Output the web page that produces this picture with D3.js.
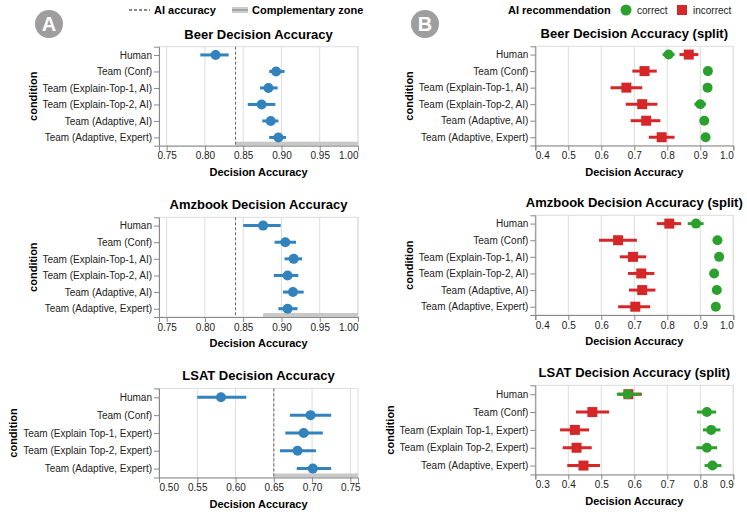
<!DOCTYPE html>
<html>
<head>
<meta charset="utf-8">
<script src="https://cdn.jsdelivr.net/npm/d3@7"></script>
<style>
  body { margin: 0; background: #fff; }
  svg { display: block; font-family: "Liberation Sans", Arial, Helvetica, sans-serif; }
</style>
</head>
<body>
<svg id="chart" width="747" height="515"></svg>
<script>
// ---------- DATA ----------
const beerConditions = ["Human", "Team (Conf)", "Team (Explain-Top-1, AI)", "Team (Explain-Top-2, AI)", "Team (Adaptive, AI)", "Team (Adaptive, Expert)"];
const amzConditions = ["Human", "Team (Conf)", "Team (Explain-Top-1, AI)", "Team (Explain-Top-2, AI)", "Team (Adaptive, AI)", "Team (Adaptive, Expert)"];
const lsatConditions = ["Human", "Team (Conf)", "Team (Explain Top-1, Expert)", "Team (Explain Top-2, Expert)", "Team (Adaptive, Expert)"];

// Panel A: overall decision accuracy (mean, CI low, CI high)
const beerMean = [0.814, 0.893, 0.883, 0.874, 0.886, 0.896];
const beerLo   = [0.794, 0.884, 0.872, 0.856, 0.875, 0.884];
const beerHi   = [0.831, 0.904, 0.895, 0.892, 0.896, 0.906];
const amzMean  = [0.876, 0.905, 0.916, 0.908, 0.915, 0.908];
const amzLo    = [0.850, 0.891, 0.904, 0.890, 0.902, 0.896];
const amzHi    = [0.899, 0.919, 0.927, 0.922, 0.929, 0.921];
const lsatMean = [0.581, 0.698, 0.689, 0.681, 0.701];
const lsatLo   = [0.550, 0.671, 0.665, 0.658, 0.680];
const lsatHi   = [0.614, 0.725, 0.714, 0.705, 0.725];

const aiAccuracy = { beer: 0.84, amz: 0.84, lsat: 0.65 };

// Panel B: split by AI recommendation correctness
const beerCorrect     = [0.804, 0.923, 0.922, 0.900, 0.912, 0.916];
const beerCorrectLo   = [0.786, 0.915, 0.914, 0.882, 0.904, 0.908];
const beerCorrectHi   = [0.822, 0.931, 0.930, 0.917, 0.920, 0.924];
const beerIncorrect   = [0.865, 0.731, 0.676, 0.724, 0.736, 0.783];
const beerIncorrectLo = [0.837, 0.694, 0.628, 0.674, 0.689, 0.744];
const beerIncorrectHi = [0.894, 0.768, 0.724, 0.770, 0.779, 0.822];

const amzCorrect      = [0.887, 0.952, 0.957, 0.942, 0.950, 0.947];
const amzCorrectLo    = [0.862, 0.945, 0.950, 0.930, 0.943, 0.940];
const amzCorrectHi    = [0.910, 0.959, 0.964, 0.954, 0.957, 0.954];
const amzIncorrect    = [0.806, 0.651, 0.696, 0.721, 0.724, 0.703];
const amzIncorrectLo  = [0.768, 0.593, 0.656, 0.681, 0.684, 0.651];
const amzIncorrectHi  = [0.842, 0.708, 0.736, 0.761, 0.764, 0.748];

const lsatCorrect     = [0.580, 0.820, 0.833, 0.820, 0.837];
const lsatCorrectLo   = [0.547, 0.790, 0.808, 0.788, 0.813];
const lsatCorrectHi   = [0.620, 0.848, 0.861, 0.851, 0.864];
const lsatIncorrect   = [0.582, 0.473, 0.420, 0.425, 0.446];
const lsatIncorrectLo = [0.552, 0.423, 0.375, 0.383, 0.397];
const lsatIncorrectHi = [0.623, 0.524, 0.463, 0.471, 0.496];

const ticksA = [0.75, 0.80, 0.85, 0.90, 0.95, 1.00];
const ticksLsatA = [0.50, 0.55, 0.60, 0.65, 0.70, 0.75];
const ticksB = [0.4, 0.5, 0.6, 0.7, 0.8, 0.9, 1.0];
const ticksLsatB = [0.3, 0.4, 0.5, 0.6, 0.7, 0.8, 0.9];

// ---------- STYLE ----------
const BLUE = "#3182bd", GREEN = "#2ca02c", RED = "#d62728";
const AXIS = "#888", GRID = "#ddd";

const svg = d3.select("#chart");

function panel(cfg) {
  const g = svg.append("g");
  const x = d3.scaleLinear().domain(cfg.domain).range([cfg.left, cfg.left + cfg.width]);
  const y = d3.scalePoint().domain(cfg.categories).range([cfg.top, cfg.bottom]).padding(0.5);

  // grid
  g.selectAll(".grid").data(cfg.ticks).join("line")
    .attr("x1", d => x(d)).attr("x2", d => x(d))
    .attr("y1", cfg.top).attr("y2", cfg.bottom)
    .attr("stroke", GRID).attr("stroke-width", 1);
  // view border (top, right)
  g.append("rect").attr("x", cfg.left).attr("y", cfg.top)
    .attr("width", cfg.width).attr("height", cfg.bottom - cfg.top)
    .attr("fill", "none").attr("stroke", GRID);

  // complementary zone + AI line
  if (cfg.ai !== undefined) {
    const zoneStart = Math.max(cfg.ai, cfg.humanMean);
    g.append("rect")
      .attr("x", x(zoneStart)).attr("y", cfg.bottom - 4)
      .attr("width", x(cfg.domain[1]) - x(zoneStart)).attr("height", 4)
      .attr("fill", "#c8c8c8");
    g.append("line")
      .attr("x1", x(cfg.ai)).attr("x2", x(cfg.ai))
      .attr("y1", cfg.top).attr("y2", cfg.bottom)
      .attr("stroke", "#666").attr("stroke-width", 1).attr("stroke-dasharray", "3,2");
  }

  // x axis
  const xa = d3.axisBottom(x).tickValues(cfg.ticks).tickSize(5).tickFormat(cfg.fmt);
  const xg = g.append("g").attr("transform", `translate(0,${cfg.bottom})`).call(xa);
  xg.select(".domain").attr("stroke", AXIS);
  xg.selectAll(".tick line").attr("stroke", AXIS);
  xg.selectAll(".tick text")
    .attr("font-size", 10).attr("fill", "#222").attr("dy", "0.55em").attr("y", 8)
    .attr("text-anchor", d => Math.abs(d - cfg.domain[0]) < 1e-9 ? "start" : (Math.abs(d - cfg.domain[1]) < 1e-9 ? "end" : "middle"));
  xg.attr("font-family", null);

  // y axis
  const ya = d3.axisLeft(y).tickSize(5).tickPadding(2);
  const yg = g.append("g").attr("transform", `translate(${cfg.left},0)`).call(ya);
  yg.attr("font-family", null);
  yg.select(".domain").attr("stroke", AXIS);
  yg.selectAll(".tick line").attr("stroke", AXIS);
  yg.selectAll(".tick text").attr("font-size", 10).attr("fill", "#222");

  // labels
  let minLeft = cfg.left;
  yg.selectAll(".tick text").each(function () {
    const b = this.getBBox();
    minLeft = Math.min(minLeft, cfg.left + b.x);
  });
  g.append("text")
    .attr("transform", `translate(${minLeft - 6},${(cfg.top + cfg.bottom) / 2}) rotate(-90)`)
    .attr("text-anchor", "middle").attr("font-size", 11).attr("font-weight", "bold").attr("fill", "#000")
    .text("condition");
  g.append("text")
    .attr("x", cfg.left + cfg.width / 2).attr("y", cfg.top - 12.5).attr("dy", "0.35em")
    .attr("text-anchor", "middle").attr("font-size", 13).attr("font-weight", "bold").attr("fill", "#000")
    .text(cfg.title);
  g.append("text")
    .attr("x", cfg.left + cfg.width / 2).attr("y", cfg.bottom + 26.5).attr("dy", "0.35em")
    .attr("text-anchor", "middle").attr("font-size", 11).attr("font-weight", "bold").attr("fill", "#000")
    .text("Decision Accuracy");

  // series
  cfg.series.forEach(s => {
    const rows = cfg.categories.map((c, i) => ({ c, m: s.mean[i], lo: s.lo[i], hi: s.hi[i] }));
    g.append("g").selectAll("line").data(rows).join("line")
      .attr("x1", d => x(d.lo)).attr("x2", d => x(d.hi))
      .attr("y1", d => y(d.c)).attr("y2", d => y(d.c))
      .attr("stroke", s.color).attr("stroke-width", 3);
    if (s.shape === "square") {
      g.append("g").selectAll("rect").data(rows).join("rect")
        .attr("x", d => x(d.m) - 5).attr("y", d => y(d.c) - 5)
        .attr("width", 10).attr("height", 10).attr("fill", s.color);
    } else {
      g.append("g").selectAll("circle").data(rows).join("circle")
        .attr("cx", d => x(d.m)).attr("cy", d => y(d.c)).attr("r", 5).attr("fill", s.color);
    }
  });
}

const fmt2 = d3.format(".2f"), fmt1 = d3.format(".1f");
const LA = 159, WA = 199, LB = 535.3, WB = 198;

panel({ title: "Beer Decision Accuracy", categories: beerConditions, domain: [0.74, 1.0], ticks: ticksA, fmt: fmt2,
  left: LA, width: WA, top: 46.7, bottom: 145.7, ai: aiAccuracy.beer, humanMean: beerMean[0],
  series: [{ mean: beerMean, lo: beerLo, hi: beerHi, color: BLUE, shape: "circle" }] });
panel({ title: "Amzbook Decision Accuracy", categories: amzConditions, domain: [0.74, 1.0], ticks: ticksA, fmt: fmt2,
  left: LA, width: WA, top: 217.3, bottom: 317, ai: aiAccuracy.amz, humanMean: amzMean[0],
  series: [{ mean: amzMean, lo: amzLo, hi: amzHi, color: BLUE, shape: "circle" }] });
panel({ title: "LSAT Decision Accuracy", categories: lsatConditions, domain: [0.50, 0.76], ticks: ticksLsatA, fmt: fmt2,
  left: LA, width: WA, top: 388.4, bottom: 477.5, ai: aiAccuracy.lsat, humanMean: lsatMean[0],
  series: [{ mean: lsatMean, lo: lsatLo, hi: lsatHi, color: BLUE, shape: "circle" }] });

panel({ title: "Beer Decision Accuracy (split)", categories: beerConditions, domain: [0.4, 1.0], ticks: ticksB, fmt: fmt1,
  left: LB, width: WB, top: 46.3, bottom: 145.5,
  series: [{ mean: beerIncorrect, lo: beerIncorrectLo, hi: beerIncorrectHi, color: RED, shape: "square" },
           { mean: beerCorrect, lo: beerCorrectLo, hi: beerCorrectHi, color: GREEN, shape: "circle" }] });
panel({ title: "Amzbook Decision Accuracy (split)", categories: amzConditions, domain: [0.4, 1.0], ticks: ticksB, fmt: fmt1,
  left: LB, width: WB, top: 215.3, bottom: 315,
  series: [{ mean: amzIncorrect, lo: amzIncorrectLo, hi: amzIncorrectHi, color: RED, shape: "square" },
           { mean: amzCorrect, lo: amzCorrectLo, hi: amzCorrectHi, color: GREEN, shape: "circle" }] });
panel({ title: "LSAT Decision Accuracy (split)", categories: lsatConditions, domain: [0.3, 0.9], ticks: ticksLsatB, fmt: fmt1,
  left: LB, width: WB, top: 385.3, bottom: 474.5,
  series: [{ mean: lsatIncorrect, lo: lsatIncorrectLo, hi: lsatIncorrectHi, color: RED, shape: "square" },
           { mean: lsatCorrect, lo: lsatCorrectLo, hi: lsatCorrectHi, color: GREEN, shape: "circle" }] });

// ---------- BADGES ----------
[["A", 49, 24], ["B", 425, 24]].forEach(([t, cx, cy]) => {
  svg.append("circle").attr("cx", cx).attr("cy", cy).attr("r", 14).attr("fill", "#9e9e9e");
  svg.append("text").attr("x", cx).attr("y", cy).attr("dy", "0.36em").attr("text-anchor", "middle")
    .attr("font-size", 20).attr("font-weight", "bold").attr("fill", "#fff").text(t);
});

// ---------- LEGEND A ----------
const lgA = svg.append("g");
lgA.append("line").attr("x1", 129).attr("x2", 150).attr("y1", 10).attr("y2", 10)
  .attr("stroke", "#888").attr("stroke-width", 2).attr("stroke-dasharray", "3,2");
lgA.append("text").attr("x", 154).attr("y", 10).attr("dy", "0.35em").attr("font-size", 11).attr("font-weight", "bold").text("AI accuracy");
lgA.append("rect").attr("x", 232).attr("y", 7).attr("width", 16).attr("height", 6).attr("fill", "#ccc");
lgA.append("line").attr("x1", 232).attr("x2", 248).attr("y1", 10).attr("y2", 10).attr("stroke", "#999").attr("stroke-width", 1.5);
lgA.append("text").attr("x", 252).attr("y", 10).attr("dy", "0.35em").attr("font-size", 11).attr("font-weight", "bold").text("Complementary zone");

// ---------- LEGEND B ----------
const lgB = svg.append("g");
lgB.append("text").attr("x", 508).attr("y", 10).attr("dy", "0.35em").attr("font-size", 11).attr("font-weight", "bold").text("AI recommendation");
lgB.append("circle").attr("cx", 626).attr("cy", 10).attr("r", 5.5).attr("fill", GREEN);
lgB.append("text").attr("x", 637).attr("y", 10).attr("dy", "0.35em").attr("font-size", 10).attr("fill", "#222").text("correct");
lgB.append("rect").attr("x", 677).attr("y", 5).attr("width", 10).attr("height", 10).attr("fill", RED);
lgB.append("text").attr("x", 693).attr("y", 10).attr("dy", "0.35em").attr("font-size", 10).attr("fill", "#222").text("incorrect");
</script>
</body>
</html>
